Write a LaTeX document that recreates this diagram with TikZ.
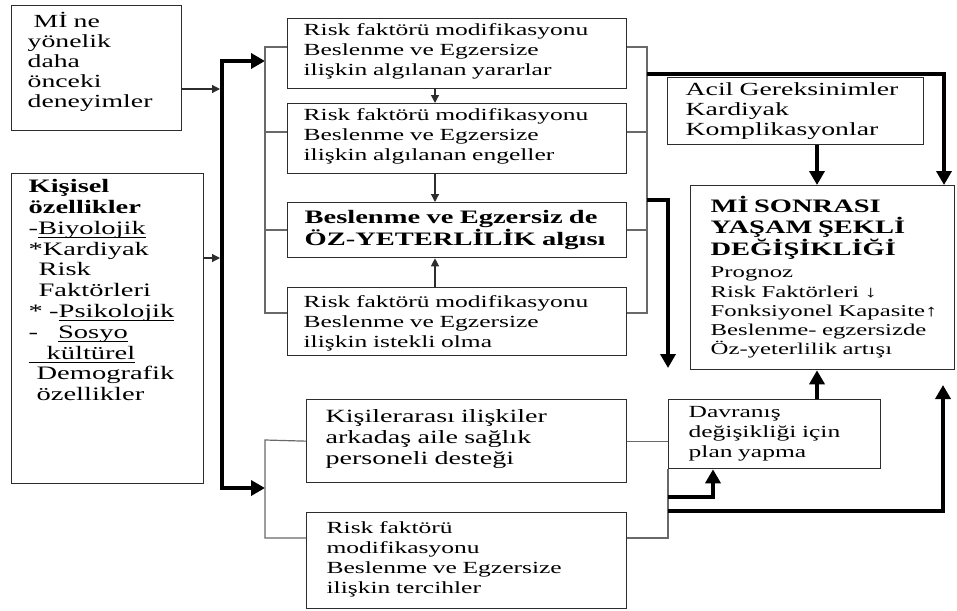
\documentclass[tikz,border=0pt]{standalone}
\usepackage{fontspec}
\setmainfont[FakeStretch=1.5]{Liberation Serif}
\usetikzlibrary{arrows.meta,positioning,calc}
\definecolor{kenar}{RGB}{45,45,45}
\definecolor{kolrenk}{RGB}{105,105,105}
\newcommand{\altciz}[1]{\leavevmode\setbox0\hbox{#1}\rlap{\rule[-4pt]{\wd0}{1pt}}\box0}
\tikzset{
  kutu/.style={rectangle, draw=kenar, line width=1.3pt, anchor=north west,
               align=left, inner ysep=0pt, inner xsep=16pt,
               font=\fontsize{17}{20}\selectfont},
  kolhat/.style={draw=kolrenk, line width=1.2pt},
  ince/.style={-{Triangle[length=8pt,width=8pt]}, draw=kenar, line width=1.2pt},
  kalin/.style={-{Triangle[length=14pt,width=15pt]}, line width=4.5pt}
}
\begin{document}
\begin{tikzpicture}[x=1pt, y=-1pt]
\useasboundingbox (0,0) rectangle (957,610);
% sol kutular
\node[kutu, text width=138pt, text height=22pt, text depth=103pt,
      font=\fontsize{18.5}{20}\selectfont] (deneyim) at (11,5)
  {\hspace*{6pt}Mİ ne\\yönelik\\daha\\önceki\\deneyimler};
\node[kutu, text width=158pt, inner xsep=17pt, text height=19pt, text depth=291pt,
      font=\fontsize{19}{20.8}\selectfont] (kisisel) at (11,173)
  {{\bfseries Kişisel}\\
   {\bfseries özellikler}\\
   -\altciz{Biyolojik}\\
   {}*Kardiyak\\
   \hspace*{10pt}Risk\\
   \hspace*{10pt}Faktörleri\\
   {}* -\altciz{Psikolojik}\\
   -\hspace*{20pt}\altciz{Sosyo}\\
   \altciz{\hspace*{18pt}kültürel}\\
   \hspace*{8pt}Demografik\\
   \hspace*{8pt}özellikler};
% orta grup
\node[kutu, text width=307pt, text height=17pt, text depth=53pt] (yarar) at (287,18)
  {Risk faktörü modifikasyonu\\Beslenme ve Egzersize\\ilişkin algılanan yararlar};
\node[kutu, text width=307pt, text height=17pt, text depth=53pt] (engel) at (287,103)
  {Risk faktörü modifikasyonu\\Beslenme ve Egzersize\\ilişkin algılanan engeller};
\node[kutu, text width=305pt, inner xsep=17pt, text height=21pt, text depth=34pt,
      font=\bfseries\fontsize{19}{20}\selectfont] (ozyet) at (287,202)
  {\mbox{Beslenme ve Egzersiz de}\\\mbox{ÖZ-YETERLİLİK algısı}};
\node[kutu, text width=307pt, text height=20pt, text depth=48pt] (istek) at (287,287)
  {Risk faktörü modifikasyonu\\Beslenme ve Egzersize\\ilişkin istekli olma};
\node[kutu, text width=282pt, inner xsep=19pt, text height=23pt, text depth=60pt,
      font=\fontsize{18.7}{21}\selectfont] (destek) at (306,399)
  {Kişilerarası ilişkiler\\arkadaş aile sağlık\\personeli desteği};
\node[kutu, text width=280pt, inner xsep=20pt, text height=21pt, text depth=75pt] (tercih) at (306,512)
  {Risk faktörü\\modifikasyonu\\Beslenme ve Egzersize\\ilişkin tercihler};
% sag kutular
\node[kutu, text width=220pt, inner xsep=18pt, text height=18pt, text depth=49pt,
      font=\fontsize{18.5}{20}\selectfont] (acil) at (667,77)
  {\mbox{Acil Gereksinimler}\\Kardiyak\\Komplikasyonlar};
\node[kutu, text width=172pt, inner xsep=20pt, text height=18pt, text depth=51pt] (davranis) at (668,399)
  {Davranış\\değişikliği için\\plan yapma};
\node[kutu, text width=224pt, inner xsep=20pt, text height=27pt, text depth=157pt,
      font=\fontsize{16.5}{19.3}\selectfont] (mi) at (690,185)
  {{\bfseries\fontsize{19}{19}\selectfont \mbox{Mİ SONRASI}}\\[1.2pt]
   {\bfseries\fontsize{19}{19}\selectfont \mbox{YAŞAM ŞEKLİ}}\\[1.2pt]
   {\bfseries\fontsize{19}{19}\selectfont \mbox{DEĞİŞİKLİĞİ}}\\[2.7pt]
   Prognoz\\
   \mbox{Risk Faktörleri ↓}\\
   \mbox{Fonksiyonel Kapasite↑}\\
   \mbox{Beslenme- egzersizde}\\
   \mbox{Öz-yeterlilik artışı}};

\coordinate (giris1) at (220,89);
\coordinate (giris2) at (220,258);
\coordinate (busust) at (222,61);
\coordinate (busalt) at (222,488);
\coordinate (solust) at (265,47);
\coordinate (solalt) at (265,313);
\coordinate (sagust) at (647,47);
\coordinate (sagalt) at (647,313);
\coordinate (altsol1) at (265,440);
\coordinate (altsol2) at (265,538);
\coordinate (altsag2) at (668,538);
\coordinate (orta) at (435,0);
\coordinate (sagcik) at (647,74);
\coordinate (k1) at (944,74);
\coordinate (k2) at (817,0);
\coordinate (oz1) at (647,200);
\coordinate (oz2) at (668,368);
\coordinate (d1) at (668,497);
\coordinate (d2) at (713,0);
\coordinate (d3) at (668,511);
\coordinate (d4) at (943,385);

% ana kol
\draw[ince] (deneyim.east |- giris1) -- (giris1);
\draw[ince] (kisisel.east |- giris2) -- (giris2);
\draw[kalin] (busalt) -- (busust) -- (solust |- busust);
\draw[kalin] (busust) -- (busalt) -- (altsol1 |- busalt);

% ust grup
\draw[kolhat] (yarar.west |- solust) -- (solust) -- (solalt) -- (istek.west |- solalt);
\draw[kolhat] (yarar.east |- sagust) -- (sagust) -- (sagalt) -- (istek.east |- sagalt);
\foreach \k/\y in {engel/132, ozyet/230}{
  \draw[kolhat] (\k.west |- 0,\y) -- (solust |- 0,\y);
  \draw[kolhat] (\k.east |- 0,\y) -- (sagust |- 0,\y);
}
\draw[ince] (yarar.south -| orta) -- (engel.north -| orta);
\draw[ince] (engel.south -| orta) -- (ozyet.north -| orta);
\draw[ince] (istek.north -| orta) -- (ozyet.south -| orta);

% alt grup
\draw[kolhat] (destek.west) -- (altsol1) -- (altsol2) -- (tercih.west |- altsol2);
\draw[kolhat] (destek.east) -- (destek.east -| davranis.west);
\draw[kolhat] (davranis.south west) -- (altsag2) -- (tercih.east |- altsag2);

% kalin oklar
\draw[kalin] (sagcik) -- (k1) -- (k1 |- mi.north);
\draw[kalin] (acil.south -| k2) -- (mi.north -| k2);
\draw[kalin] (oz1) -| (oz2);
\draw[kalin] (d1) -| (davranis.south -| d2);
\draw[kalin] (d3) -| (d4);
\draw[kalin] (davranis.north -| k2) -- (mi.south -| k2);
\end{tikzpicture}
\end{document}
